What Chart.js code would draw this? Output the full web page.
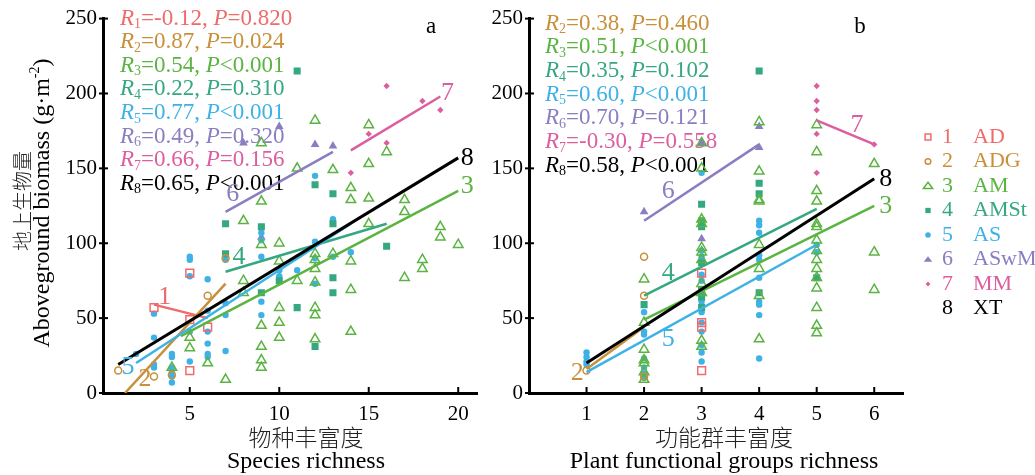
<!DOCTYPE html>
<html>
<head>
<meta charset="utf-8">
<script src="https://cdn.jsdelivr.net/npm/chart.js@4.4.0/dist/chart.umd.min.js"></script>
<style>
  body { margin: 0; background: #fff; width: 1035px; height: 475px; position: relative; overflow: hidden; }
  canvas { position: absolute; top: 0; }
  #chartA { left: 0; }
  #chartB { left: 484px; }
</style>
</head>
<body>
<canvas id="chartA" width="484" height="475"></canvas>
<canvas id="chartB" width="551" height="475"></canvas>
<script>
// groups (legend)
const groupNames = ["AD", "ADG", "AM", "AMSt", "AS", "ASwM", "MM", "XT"];
const colors = ["#ee6b6b", "#c8903a", "#5bb442", "#35a882", "#3eb2e6", "#8b7dc2", "#dc5e9f", "#000000"];

// ticks
const yTicks = [0, 50, 100, 150, 200, 250];
const xTicksA = [5, 10, 15, 20];
const xTicksB = [1, 2, 3, 4, 5, 6];

// panel a: species richness vs biomass  [richness, biomass]
const adA = [[3, 57], [5, 80], [5, 49], [6, 44], [5, 15]];
const adgA = [[1, 15], [3, 11], [4, 12], [6, 65], [7, 90]];
const amA = [[4, 17], [5, 37], [5, 30], [6, 20], [7, 9], [8, 115], [8, 75], [8, 67],
  [9, 167], [9, 128], [9, 99], [9, 45], [9, 31], [9, 22], [9, 17],
  [10, 100], [10, 88], [10, 57], [10, 47], [10, 37], [11, 150], [11, 75],
  [12, 182], [12, 93], [12, 89], [12, 83], [12, 74], [12, 57], [12, 52], [12, 36],
  [13, 149], [13, 93], [14, 137], [14, 129], [14, 88], [14, 69], [14, 41],
  [15, 179], [15, 153], [15, 130], [15, 113], [16, 161], [17, 129], [17, 121], [17, 77],
  [18, 89], [18, 83], [19, 111], [19, 104], [20, 99]];
const amstA = [[7, 113], [7, 93], [9, 111], [9, 67], [10, 75], [11, 215], [11, 57], [12, 139],
  [12, 31], [13, 133], [13, 113], [13, 77], [13, 67], [16, 98]];
const asA = [[2, 26], [3, 53], [3, 37], [3, 19], [3, 17], [4, 26], [4, 24], [4, 17], [4, 14], [4, 11], [4, 7],
  [5, 91], [5, 89], [5, 78], [5, 41], [5, 21], [6, 76], [6, 55], [6, 41], [6, 33], [6, 26], [6, 24],
  [7, 89], [7, 60], [7, 52], [7, 28], [9, 107], [9, 102], [9, 91], [9, 61], [9, 52],
  [10, 82], [10, 78], [11, 82], [12, 145], [12, 101], [12, 90], [12, 73], [13, 116], [13, 91], [14, 94]];
const aswmA = [[8, 167], [9, 104], [10, 178], [12, 166], [13, 165]];
const mmA = [[14, 147], [15, 173], [16, 205], [16, 167], [18, 195], [19, 189]];

// panel a regression lines (end points)
const fitA = [
  [1, [[3, 59], [6, 50]]],
  [2, [[1.38, 0], [7, 73]]],
  [3, [[4.5, 38], [20, 135]]],
  [4, [[7, 81], [16, 113]]],
  [5, [[2, 20], [14, 113]]],
  [6, [[7, 121], [13, 161]]],
  [7, [[14, 162], [19, 198]]],
  [8, [[1, 19], [20, 157]]]
];
const statGroupsA = [1, 2, 3, 4, 5, 6, 7, 8];
const rA = ["-0.12", "0.87", "0.54", "0.22", "0.77", "0.49", "0.66", "0.65"];
const pA = ["=0.820", "=0.024", "<0.001", "=0.310", "<0.001", "=0.320", "=0.156", "<0.001"];

// panel b: functional group richness vs biomass
const adB = [[3, 80], [3, 47], [3, 44], [3, 15]];
const adgB = [[1, 15], [2, 91], [2, 65], [2, 11]];
const amB = [[2, 76], [2, 47], [2, 29], [2, 22], [2, 20], [2, 14], [2, 9],
  [3, 167], [3, 150], [3, 116], [3, 113], [3, 97], [3, 94], [3, 89], [3, 73], [3, 67], [3, 35], [3, 31],
  [4, 181], [4, 148], [4, 129], [4, 128], [4, 99], [4, 83], [4, 65], [4, 36],
  [5, 179], [5, 161], [5, 135], [5, 128], [5, 113], [5, 111], [5, 102], [5, 95], [5, 89], [5, 83],
  [5, 77], [5, 70], [5, 57], [5, 45], [5, 40], [6, 153], [6, 94], [6, 69]];
const amstB = [[2, 59], [3, 126], [3, 115], [3, 111], [3, 87], [3, 69], [3, 64], [3, 57],
  [4, 215], [4, 140], [4, 133], [4, 67], [5, 77]];
const asB = [[1, 27], [1, 24], [1, 21], [1, 19], [2, 54], [2, 41], [2, 39], [2, 23], [2, 17], [2, 13], [2, 10],
  [3, 147], [3, 95], [3, 91], [3, 87], [3, 79], [3, 75], [3, 67], [3, 61], [3, 54], [3, 47], [3, 41], [3, 32], [3, 27], [3, 21],
  [4, 115], [4, 112], [4, 107], [4, 92], [4, 89], [4, 77], [4, 61], [4, 59], [4, 52], [4, 23], [5, 99], [5, 94]];
const aswmB = [[2, 121], [3, 103], [3, 167], [4, 178], [4, 164]];
const mmB = [[5, 205], [5, 195], [5, 189], [5, 173], [5, 147], [6, 166]];

const fitB = [
  [2, [[1, 16], [2, 44]]],
  [3, [[2, 49], [6, 125]]],
  [4, [[2, 65], [5, 123]]],
  [5, [[1, 14], [5, 99]]],
  [6, [[2, 115], [4, 166]]],
  [7, [[5, 182], [6, 166]]],
  [8, [[1, 20], [6, 143]]]
];
const statGroupsB = [2, 3, 4, 5, 6, 7, 8];
const rB = ["0.38", "0.51", "0.35", "0.60", "0.70", "-0.30", "0.58"];
const pB = ["=0.460", "<0.001", "=0.102", "<0.001", "=0.121", "=0.558", "<0.001"];

// ---- styling ----
const SERIF = '"Liberation Serif", "Times New Roman", serif';
const CJK = '"Noto Sans CJK SC", sans-serif';
const markers = [
  { style: "rect", r: 5.5, open: true },
  { style: "circle", r: 3.5, open: true },
  { style: "triangle", r: 5.5, open: true },
  { style: "rect", r: 5, open: false },
  { style: "circle", r: 3.2, open: false },
  { style: "triangle", r: 5, open: false },
  { style: "rectRot", r: 3.2, open: false }
];

// where the line numbers sit, in data units
const lineLabelsA = [[1, 3.6, 64], [2, 2.5, 9], [3, 20.5, 138], [4, 7.75, 91], [5, 1.55, 17], [6, 7.4, 133], [7, 19.4, 200], [8, 20.5, 157]];
const lineLabelsB = [[2, 0.84, 13], [3, 6.2, 125], [4, 2.42, 80], [5, 2.42, 36], [6, 2.42, 135], [7, 5.7, 179], [8, 6.2, 143]];

function pts(arr) { return arr.map(([x, y]) => ({ x, y })); }

function pointSet(g, arr) {
  const m = markers[g - 1];
  return {
    label: groupNames[g - 1], data: pts(arr), showLine: false,
    pointStyle: m.style, pointRadius: m.r, pointHoverRadius: m.r,
    borderWidth: m.open ? 1.5 : 0, pointBorderWidth: m.open ? 1.5 : 0,
    borderColor: colors[g - 1],
    backgroundColor: m.open ? "rgba(255,255,255,0)" : colors[g - 1]
  };
}

function fitSet(g, seg) {
  return {
    label: "fit" + g, data: pts(seg), showLine: true, pointRadius: 0,
    borderColor: colors[g - 1], borderWidth: g === 8 ? 3 : 2.5, fill: false
  };
}

function drawRuns(ctx, runs, x, y) {
  runs.forEach(([t, f, dy]) => {
    ctx.font = f;
    ctx.fillText(t, x, y + (dy || 0));
    x += ctx.measureText(t).width;
  });
  return x;
}

function runsWidth(ctx, runs) {
  let w = 0;
  runs.forEach(([t, f]) => { ctx.font = f; w += ctx.measureText(t).width; });
  return w;
}

function statRuns(g, r, p) {
  return [
    ["R", "italic 23px " + SERIF], [String(g), "14px " + SERIF, 6],
    ["=" + r + ", ", "23px " + SERIF],
    ["P", "italic 23px " + SERIF], [p, "23px " + SERIF]
  ];
}

function drawMarker(ctx, g, x, y, s) {
  const m = markers[g - 1];
  const r = m.r * s;
  ctx.beginPath();
  if (m.style === "circle") ctx.arc(x, y, Math.max(r, 2.8), 0, Math.PI * 2);
  else if (m.style === "rect") { const h = r * Math.SQRT1_2; ctx.rect(x - h, y - h, 2 * h, 2 * h); }
  else if (m.style === "rectRot") { ctx.moveTo(x, y - r); ctx.lineTo(x + r, y); ctx.lineTo(x, y + r); ctx.lineTo(x - r, y); ctx.closePath(); }
  else { const h = r * 1.5 / Math.sqrt(3); ctx.moveTo(x, y - r * 0.9); ctx.lineTo(x + h * 1.3, y + r * 0.6); ctx.lineTo(x - h * 1.3, y + r * 0.6); ctx.closePath(); }
  ctx.lineWidth = 1.5;
  if (m.open) { ctx.strokeStyle = colors[g - 1]; ctx.stroke(); }
  else { ctx.fillStyle = colors[g - 1]; ctx.fill(); }
}

const decor = {
  id: "decor",
  beforeDatasetsDraw(chart, args, o) {
    const ctx = chart.ctx, a = chart.chartArea;
    ctx.save();
    ctx.textBaseline = "middle";
    ctx.textAlign = "left";
    o.statGroups.forEach((g, i) => {
      ctx.fillStyle = colors[g - 1];
      drawRuns(ctx, statRuns(g, o.r[i], o.p[i]), a.left + o.statX, a.top + o.statY + i * o.statGap);
    });
    ctx.restore();
  },
  afterDraw(chart, args, o) {
    const ctx = chart.ctx, a = chart.chartArea;
    const xs = chart.scales.x, ys = chart.scales.y;
    ctx.save();
    // inward tick marks
    ctx.strokeStyle = "#000";
    ctx.lineWidth = 2;
    ys.ticks.forEach(t => {
      const y = ys.getPixelForValue(t.value);
      ctx.beginPath(); ctx.moveTo(a.left - 4, y); ctx.lineTo(a.left + 5, y); ctx.stroke();
    });
    xs.ticks.forEach(t => {
      const x = xs.getPixelForValue(t.value);
      ctx.beginPath(); ctx.moveTo(x, a.bottom); ctx.lineTo(x, a.bottom - 6); ctx.stroke();
    });
    // regression line numbers
    ctx.textAlign = "center";
    ctx.textBaseline = "middle";
    ctx.font = "26px " + SERIF;
    o.lineLabels.forEach(([g, x, y]) => {
      ctx.fillStyle = colors[g - 1];
      ctx.fillText(String(g), xs.getPixelForValue(x), ys.getPixelForValue(y));
    });
    // panel letter
    ctx.fillStyle = "#000";
    ctx.font = "23px " + SERIF;
    ctx.fillText(o.letter, a.right + o.letterDx, 27);
    // x titles
    ctx.fillStyle = "#222";
    ctx.font = "300 23px " + CJK;
    ctx.fillText(o.xTitleCn, o.xTitleX, 437);
    ctx.fillStyle = "#000";
    ctx.font = "24px " + SERIF;
    ctx.fillText(o.xTitleEn, o.xTitleX, 462);
    // y title
    if (o.yTitle) {
      ctx.save();
      ctx.translate(22, 201);
      ctx.rotate(-Math.PI / 2);
      ctx.fillStyle = "#222";
      ctx.font = "300 20px " + CJK;
      ctx.fillText("地上生物量", 0, 0);
      ctx.restore();
      ctx.save();
      ctx.translate(43, 203);
      ctx.rotate(-Math.PI / 2);
      ctx.textAlign = "left";
      const runs = [["Aboveground biomass (g·m", "24px " + SERIF], ["-2", "14px " + SERIF, -8], [")", "24px " + SERIF]];
      drawRuns(ctx, runs, -runsWidth(ctx, runs) / 2, 0);
      ctx.restore();
    }
    // legend
    if (o.legend) {
      ctx.textAlign = "left";
      ctx.font = "22px " + SERIF;
      groupNames.forEach((name, i) => {
        const y = 137 + i * 24.5;
        if (i < 7) drawMarker(ctx, i + 1, o.legendX, y, 0.75);
        ctx.fillStyle = colors[i];
        ctx.fillText(String(i + 1), o.legendX + 14, y);
        ctx.fillText(name, o.legendX + 45, y);
      });
    }
    ctx.restore();
  }
};

function makeChart(id, cfg) {
  const datasets = [];
  // lines first so they are painted over the points
  cfg.fits.slice().reverse().forEach(([g, seg]) => datasets.push(fitSet(g, seg)));
  cfg.points.forEach(([g, arr]) => datasets.push(pointSet(g, arr)));
  const tickFont = { family: SERIF, size: 21 };
  return new Chart(document.getElementById(id).getContext("2d"), {
    type: "scatter",
    data: { datasets },
    plugins: [decor],
    options: {
      responsive: false, animation: false, events: [],
      layout: { padding: { top: 18, right: cfg.padRight, left: 0, bottom: 0 } },
      plugins: { legend: { display: false }, tooltip: { enabled: false }, decor: cfg.decor },
      scales: {
        x: {
          type: "linear", min: cfg.xMin, max: cfg.xMax,
          afterBuildTicks: s => { s.ticks = cfg.xTicks.map(v => ({ value: v })); },
          afterFit: s => { s.height = 82; },
          grid: { display: false, drawTicks: false },
          border: { display: true, color: "#000", width: 3 },
          ticks: { font: tickFont, color: "#000", padding: 9, maxRotation: 0, autoSkip: false }
        },
        y: {
          type: "linear", min: 0, max: 250,
          afterBuildTicks: s => { s.ticks = yTicks.map(v => ({ value: v })); },
          afterFit: s => { s.width = cfg.yWidth; },
          grid: { display: false, drawTicks: false },
          border: { display: true, color: "#000", width: 3 },
          ticks: { font: tickFont, color: "#000", padding: 6, autoSkip: false }
        }
      }
    }
  });
}

makeChart("chartA", {
  xMin: 0.15, xMax: 21.05, xTicks: xTicksA, yWidth: 103, padRight: 6,
  fits: fitA,
  points: [[1, adA], [2, adgA], [3, amA], [4, amstA], [5, asA], [6, aswmA], [7, mmA]],
  decor: {
    statGroups: statGroupsA, r: rA, p: pA, statX: 17, statY: 0, statGap: 23.6,
    lineLabels: lineLabelsA, letter: "a", letterDx: -46,
    xTitleCn: "物种丰富度", xTitleEn: "Species richness", xTitleX: 306,
    yTitle: true, legend: false
  }
});

makeChart("chartB", {
  xMin: 0, xMax: 6.5, xTicks: xTicksB, yWidth: 45, padRight: 132,
  fits: fitB,
  points: [[1, adB], [2, adgB], [3, amB], [4, amstB], [5, asB], [6, aswmB], [7, mmB]],
  decor: {
    statGroups: statGroupsB, r: rB, p: pB, statX: 16, statY: 5, statGap: 23.7,
    lineLabels: lineLabelsB, letter: "b", letterDx: -43,
    xTitleCn: "功能群丰富度", xTitleEn: "Plant functional groups richness", xTitleX: 240,
    yTitle: false, legend: true, legendX: 444
  }
});
</script>
</body>
</html>
